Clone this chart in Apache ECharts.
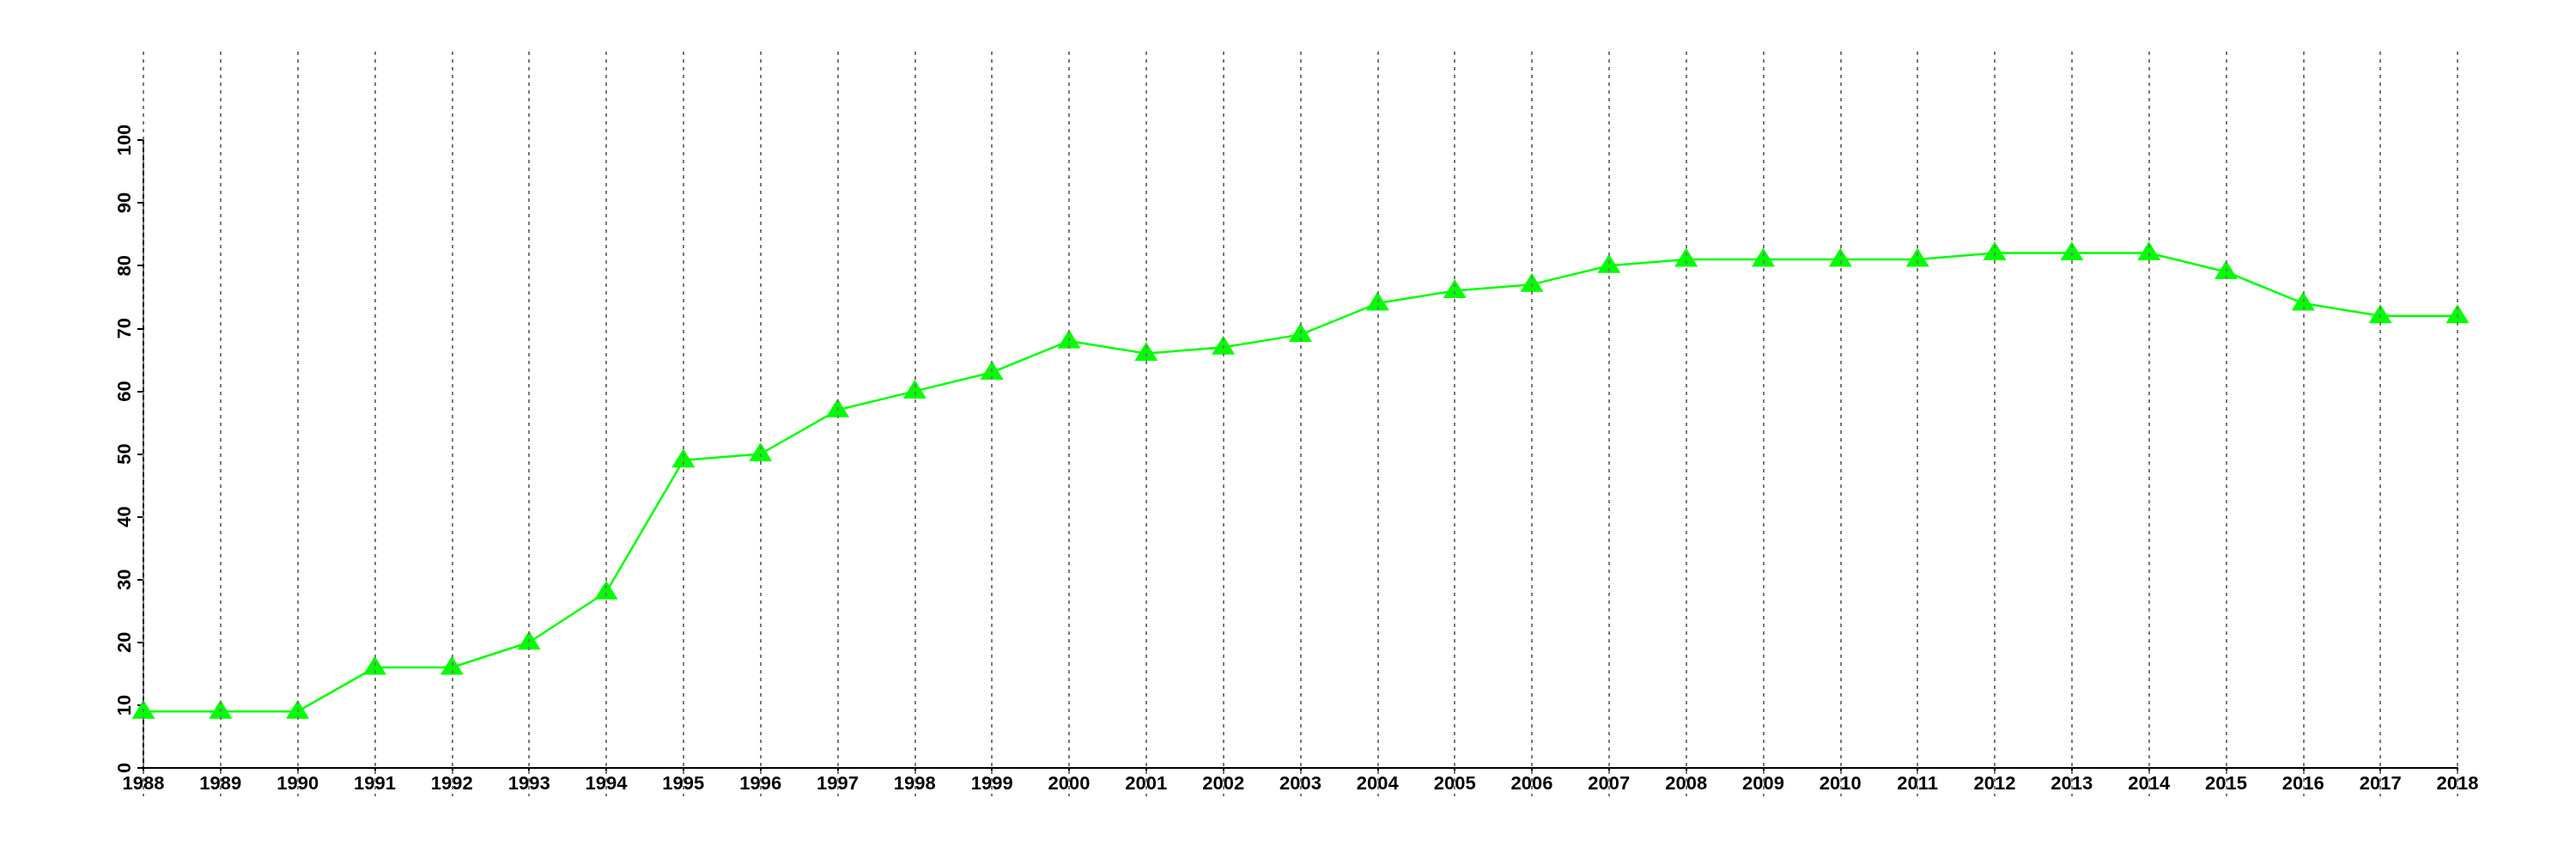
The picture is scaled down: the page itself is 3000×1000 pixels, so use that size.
<!DOCTYPE html>
<html>
<head>
<meta charset="utf-8">
<style>html,body{margin:0;padding:0;background:#fff;}#chart{width:3000px;height:1000px;}</style>
<script src="https://cdn.jsdelivr.net/npm/echarts@6/dist/echarts.min.js"></script>
</head>
<body>
<div id="chart"></div>
<script>
var years = ['1988','1989','1990','1991','1992','1993','1994','1995','1996','1997','1998','1999','2000','2001','2002','2003','2004','2005','2006','2007','2008','2009','2010','2011','2012','2013','2014','2015','2016','2017','2018'];
var values = [9,9,9,16,16,20,28,49,50,57,60,63,68,66,67,69,74,76,77,80,81,81,81,81,82,82,82,79,74,72,72];
var yMin = 0, yMax = 100, yStep = 10;

var font = {fontFamily: 'Liberation Sans, Arial, Helvetica, sans-serif', fontWeight: 'bold', fontSize: 22, color: '#000'};
var chart = echarts.init(document.getElementById('chart'));
chart.setOption({
  animation: false,
  backgroundColor: '#fff',
  grid: [
    {left: 167, right: 138, top: 163, bottom: 106, containLabel: false},
    {left: 167, right: 138, top: 60, bottom: 73, containLabel: false}
  ],
  xAxis: [
    {
      type: 'category', gridIndex: 0, data: years, boundaryGap: false,
      axisLine: {show: true, lineStyle: {color: '#000', width: 2}},
      axisTick: {show: true, length: 7, interval: 0, lineStyle: {color: '#000', width: 2}},
      axisLabel: Object.assign({interval: 0, margin: 8}, font),
      splitLine: {show: false}
    },
    {
      type: 'category', gridIndex: 1, data: years, boundaryGap: false, z: 10,
      axisLine: {show: false}, axisTick: {show: false}, axisLabel: {show: false},
      splitLine: {show: true, interval: 0, lineStyle: {color: '#7a7a7a', width: 2, type: [4, 5]}}
    }
  ],
  yAxis: [
    {
      type: 'value', gridIndex: 0, min: yMin, max: yMax, interval: yStep,
      axisLine: {show: true, lineStyle: {color: '#000', width: 2}},
      axisTick: {show: true, length: 7, lineStyle: {color: '#000', width: 2}},
      axisLabel: Object.assign({rotate: 90, margin: 10}, font),
      splitLine: {show: false}
    },
    {
      type: 'value', gridIndex: 1, min: 0, max: 1, show: false, splitLine: {show: false}
    }
  ],
  series: [{
    type: 'line', xAxisIndex: 0, yAxisIndex: 0, data: values,
    symbol: 'triangle', symbolSize: [27, 22], symbolOffset: [0, -2.5], showAllSymbol: true,
    lineStyle: {color: '#00ff00', width: 2.5},
    itemStyle: {color: '#00ff00', borderWidth: 0},
    z: 2
  }]
});
</script>
</body>
</html>
